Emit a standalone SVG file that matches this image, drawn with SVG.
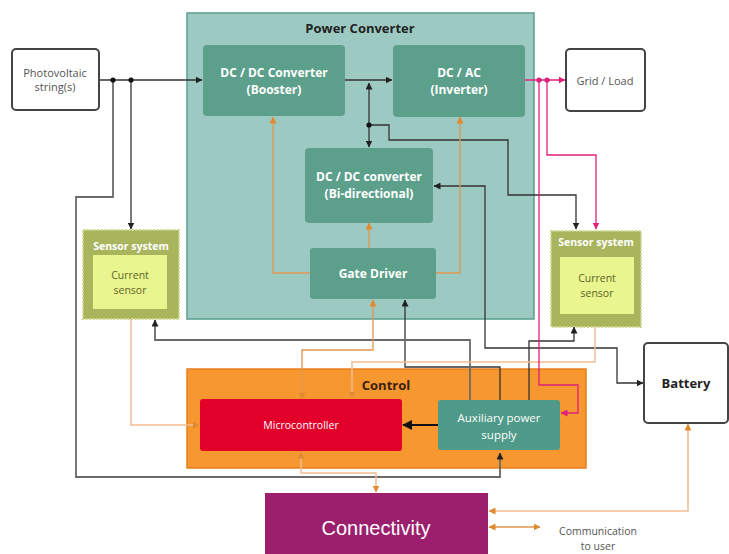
<svg xmlns="http://www.w3.org/2000/svg" width="729" height="554" viewBox="0 0 729 554">
<defs>
<marker id="ak" markerUnits="userSpaceOnUse" markerWidth="7" markerHeight="7" refX="6.5" refY="3.5" orient="auto-start-reverse"><path d="M0,0 L7,3.5 L0,7 z" fill="#222"/></marker>
<marker id="ao" markerUnits="userSpaceOnUse" markerWidth="7" markerHeight="7" refX="6.5" refY="3.5" orient="auto-start-reverse"><path d="M0,0 L7,3.5 L0,7 z" fill="#e0892f"/></marker>
<marker id="ap" markerUnits="userSpaceOnUse" markerWidth="7" markerHeight="7" refX="6.5" refY="3.5" orient="auto-start-reverse"><path d="M0,0 L7,3.5 L0,7 z" fill="#e0207a"/></marker>
<marker id="akb" markerUnits="userSpaceOnUse" markerWidth="10" markerHeight="10" refX="9" refY="5" orient="auto"><path d="M0,0 L10,5 L0,10 z" fill="#111"/></marker>
</defs>
<style>
text{font-family:"Open Sans","Noto Sans","Liberation Sans",sans-serif;text-anchor:middle}
.ext{fill:#fff;stroke:#444;stroke-width:2}
.grn{fill:#5c9f8b}
.wt{fill:#fff;font-weight:bold;font-size:12px}
.blk{fill:none;stroke:#333;stroke-width:1.3}
.gry{fill:none;stroke:#6a6a6a;stroke-width:1.8}
.org{fill:none;stroke:#e0964f;stroke-width:1.3}
.lor{fill:none;stroke:#f0bd92;stroke-width:1.5}
.pnk{fill:none;stroke:#e0207a;stroke-width:1.3}
.sens{fill:#a9b55c;stroke:#cfd68e;stroke-width:2;stroke-dasharray:2 1.5}
.sin{fill:#e9f58e}
.st{fill:#fff;font-weight:bold;font-size:10.5px}
.ct{fill:#5e6428;font-size:10.5px}
</style>
<rect width="729" height="554" fill="#fff"/>

<g id="power-converter">
<rect x="187" y="13" width="347" height="306" fill="#9ccac2" stroke="#5a9e8d" stroke-width="1.5"/>
<text x="360" y="33" font-size="13" font-weight="bold" fill="#222">Power Converter</text>
</g>

<g id="control">
<rect x="187" y="369" width="399" height="99" fill="#f7972f" stroke="#e57f1c" stroke-width="1.5"/>
<text x="386" y="390" font-size="13" font-weight="bold" fill="#3a2210">Control</text>
</g>

<g id="sensor-left">
<rect class="sens" x="83" y="230" width="96" height="89"/>
<text class="st" x="131" y="250">Sensor system</text>
<rect class="sin" x="93" y="255" width="74" height="54"/>
<text class="ct" x="130" y="279">Current</text>
<text class="ct" x="130" y="294">sensor</text>
</g>

<g id="sensor-right">
<rect class="sens" x="551" y="231" width="90" height="96"/>
<text class="st" x="596" y="246">Sensor system</text>
<rect class="sin" x="560" y="257" width="74" height="57"/>
<text class="ct" x="597" y="282">Current</text>
<text class="ct" x="597" y="297">sensor</text>
</g>

<g id="connectors">
<path class="blk" d="M99,80 H202" marker-end="url(#ak)"/>
<path class="gry" d="M113,80 V197 H76 V477 H500 V453" marker-end="url(#ak)"/>
<path class="blk" d="M131,80 V229" marker-end="url(#ak)"/>
<path class="blk" d="M345,80 H392" marker-end="url(#ak)"/>
<path class="blk" d="M369,147 V83" marker-start="url(#ak)" marker-end="url(#ak)"/>
<path class="blk" d="M369,125 H389 V140 H508 V195 H576 V229" marker-end="url(#ak)"/>
<path class="blk" d="M643,383 H617 V348 H485 V186 H434" marker-start="url(#ak)" marker-end="url(#ak)"/>
<path class="blk" d="M500,400 V367 H405 V300" marker-end="url(#ak)"/>
<path class="gry" d="M470,400 V340 H155 V320" marker-end="url(#ak)"/>
<path class="blk" d="M529,400 V341 H574 V327" marker-end="url(#ak)"/>
<path fill="none" stroke="#111" stroke-width="2.2" d="M438,425 H403" marker-end="url(#akb)"/>
<path class="org" d="M310,273 H273 V117" marker-end="url(#ao)"/>
<path class="org" d="M436,273 H460 V117" marker-end="url(#ao)"/>
<path class="org" d="M369,248 V223" marker-end="url(#ao)"/>
<path class="org" d="M302,399 V350 H373 V300" marker-start="url(#ao)" marker-end="url(#ao)"/>
<path class="lor" d="M131,319 V425 H199" marker-end="url(#ao)"/>
<path class="lor" d="M595,327 V362 H352 V398" marker-end="url(#ao)"/>
<path class="lor" d="M301,452 V473 H376 V492" marker-start="url(#ao)" marker-end="url(#ao)"/>
<path class="lor" d="M489,511 H688 V424" marker-start="url(#ao)" marker-end="url(#ao)"/>
<path class="org" d="M489,527 H540" marker-start="url(#ao)" marker-end="url(#ao)"/>
<path class="pnk" d="M525,80 H565" marker-end="url(#ap)"/>
<path class="pnk" d="M547,80 V155 H596 V229" marker-end="url(#ap)"/>
<path class="pnk" d="M539,80 V385 H578 V413 H561" marker-end="url(#ap)"/>
<circle cx="113" cy="80" r="2.6" fill="#111"/>
<circle cx="131" cy="80" r="2.6" fill="#111"/>
<circle cx="369" cy="125" r="2.6" fill="#111"/>
<circle cx="539" cy="80" r="2.6" fill="#e0207a"/>
<circle cx="547" cy="80" r="2.6" fill="#e0207a"/>
</g>

<g id="pv">
<rect class="ext" x="12" y="49" width="87" height="61" rx="4"/>
<text x="55" y="77" font-size="11" fill="#555">Photovoltaic</text>
<text x="55" y="91" font-size="11" fill="#555">string(s)</text>
</g>

<g id="grid-load">
<rect class="ext" x="566" y="49" width="79" height="62" rx="4"/>
<text x="605" y="85" font-size="11" fill="#555">Grid / Load</text>
</g>

<g id="battery">
<rect class="ext" x="644" y="343" width="84" height="80" rx="4"/>
<text x="686" y="388" font-size="13" font-weight="bold" fill="#222">Battery</text>
</g>

<g id="booster">
<rect class="grn" x="203" y="45" width="142" height="71" rx="4"/>
<text class="wt" x="274" y="77">DC / DC Converter</text>
<text class="wt" x="274" y="94">(Booster)</text>
</g>

<g id="inverter">
<rect class="grn" x="393" y="45" width="132" height="72" rx="4"/>
<text class="wt" x="459" y="77">DC / AC</text>
<text class="wt" x="459" y="94">(Inverter)</text>
</g>

<g id="bidirectional">
<rect class="grn" x="305" y="148" width="128" height="75" rx="4"/>
<text class="wt" x="369" y="181">DC / DC converter</text>
<text class="wt" x="369" y="198">(Bi-directional)</text>
</g>

<g id="gate-driver">
<rect class="grn" x="310" y="248" width="126" height="51" rx="3"/>
<text class="wt" x="373" y="278">Gate Driver</text>
</g>

<g id="microcontroller">
<rect x="200" y="399" width="202" height="52" rx="3" fill="#e2002b"/>
<text x="301" y="429" font-size="10.5" fill="#fff">Microcontroller</text>
</g>

<g id="aux-power">
<rect x="438" y="400" width="122" height="50" rx="3" fill="#4f9a88"/>
<text x="499" y="422" font-size="11.5" fill="#fff">Auxiliary power</text>
<text x="499" y="439" font-size="11.5" fill="#fff">supply</text>
</g>

<g id="connectivity">
<rect x="265" y="493" width="223" height="61" fill="#9c1f6e"/>
<text x="376" y="535" font-size="20" fill="#fff" style="font-family:'Liberation Sans',Arial,sans-serif">Connectivity</text>
</g>

<g id="comm-user">
<text x="598" y="535" font-size="10.5" fill="#555">Communication</text>
<text x="598" y="550" font-size="10.5" fill="#555">to user</text>
</g>
</svg>
